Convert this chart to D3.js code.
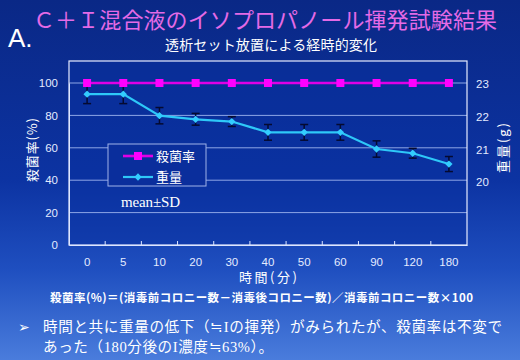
<!DOCTYPE html>
<html><head><meta charset="utf-8">
<script src="https://cdn.jsdelivr.net/npm/d3@7/dist/d3.min.js"></script>
<style>html,body{margin:0;padding:0;background:#0a2a8a;}svg{display:block;}</style>
</head><body>
<script>
const categories = ["0","5","10","20","30","40","50","60","90","120","180"];
const killRate = [100,100,100,100,100,100,100,100,100,100,100];
const weight = [22.69,22.69,22.03,21.92,21.85,21.52,21.52,21.52,21.01,20.88,20.55];
const weightSD = [0.29,0.29,0.25,0.18,0.15,0.24,0.24,0.24,0.25,0.15,0.23];
const leftTicks = [0,20,40,60,80,100];
const rightTicks = [20,21,22,23];

const W=520,H=360;
const svg=d3.select("body").append("svg").attr("width",W).attr("height",H);
const defs=svg.append("defs");
const g=defs.append("linearGradient").attr("id","bg").attr("x1",0).attr("y1",0).attr("x2",0).attr("y2",1);
g.append("stop").attr("offset","0").attr("stop-color","#0a2886");
g.append("stop").attr("offset","0.5").attr("stop-color","#0c33a2");
g.append("stop").attr("offset","0.75").attr("stop-color","#1f4fc0");
g.append("stop").attr("offset","1").attr("stop-color","#4a7cdc");
svg.append("rect").attr("width",W).attr("height",H).attr("fill","url(#bg)");

const jp="'Noto Sans CJK JP','Noto Sans',sans-serif";
const num="'Liberation Sans',Arial,sans-serif";
const serif="'Liberation Serif','DejaVu Serif',serif";

const L=69,R=467,T=61,B=245;
const x=d3.scaleBand().domain(categories).range([L,R]);
const yL=d3.scaleLinear().domain([0,100]).range([B,83]);
const yR=d3.scaleLinear().domain([20,23]).range([182,84]);

// plot bg
svg.append("rect").attr("x",L).attr("y",T).attr("width",R-L).attr("height",B-T).attr("fill","#0730a0").attr("opacity",0.5);

// gridlines
svg.append("g").selectAll("line").data(leftTicks.filter(d=>d>0)).join("line")
  .attr("x1",L).attr("x2",R).attr("y1",d=>yL(d)).attr("y2",d=>yL(d))
  .attr("stroke","#8ea6e6").attr("stroke-width",1);

// frame
svg.append("rect").attr("x",L).attr("y",T).attr("width",R-L).attr("height",B-T)
  .attr("fill","none").attr("stroke","#e6ecff").attr("stroke-width",1.2);

// left axis
const axL=svg.append("g").attr("transform",`translate(${L},0)`)
  .call(d3.axisLeft(yL).tickValues(leftTicks).tickSize(0).tickPadding(11));
axL.select(".domain").attr("stroke","#dde6ff");
axL.selectAll("text").attr("fill","#e4ebff").style("font-family",num).style("font-size","11.5px");

// right axis
const axR=svg.append("g").attr("transform",`translate(${R},0)`)
  .call(d3.axisRight(yR).tickValues(rightTicks).tickFormat(d3.format("d")).tickSize(0).tickPadding(9));
axR.select(".domain").remove();
axR.selectAll("text").attr("fill","#e4ebff").style("font-family",num).style("font-size","11.5px");

// bottom axis
const axB=svg.append("g").attr("transform",`translate(0,${B})`)
  .call(d3.axisBottom(x).tickSize(0).tickPadding(13));
axB.select(".domain").attr("stroke","#dde6ff");
axB.selectAll("text").attr("fill","#e4ebff").style("font-family",num).style("font-size","11.5px");
svg.append("g").selectAll("line").data(categories.slice(1)).join("line")
  .attr("x1",d=>x(d)).attr("x2",d=>x(d)).attr("y1",B-4).attr("y2",B)
  .attr("stroke","#dde6ff").attr("stroke-width",1);

const cx=d=>x(d)+x.bandwidth()/2;

// weight error bars
const eb=svg.append("g").attr("stroke","#050a30").attr("stroke-width",1.5);
categories.forEach((c,i)=>{
  const y1=yR(weight[i]+weightSD[i]), y2=yR(weight[i]-weightSD[i]);
  eb.append("line").attr("x1",cx(c)).attr("x2",cx(c)).attr("y1",y1).attr("y2",y2);
  eb.append("line").attr("x1",cx(c)-4).attr("x2",cx(c)+4).attr("y1",y1).attr("y2",y1);
  eb.append("line").attr("x1",cx(c)-4).attr("x2",cx(c)+4).attr("y1",y2).attr("y2",y2);
});

// weight line
svg.append("path").datum(weight)
  .attr("d",d3.line().x((d,i)=>cx(categories[i])).y(d=>yR(d)))
  .attr("fill","none").attr("stroke","#2ec8f8").attr("stroke-width",2.2);
svg.append("g").selectAll("path").data(weight).join("path")
  .attr("d",d3.symbol(d3.symbolDiamond2,34))
  .attr("transform",(d,i)=>`translate(${cx(categories[i])},${yR(d)})`)
  .attr("fill","#33ccff");

// kill rate line
svg.append("path").datum(killRate)
  .attr("d",d3.line().x((d,i)=>cx(categories[i])).y(d=>yL(d)))
  .attr("fill","none").attr("stroke","#e000e6").attr("stroke-width",2.6);
svg.append("g").selectAll("rect").data(killRate).join("rect")
  .attr("x",(d,i)=>cx(categories[i])-4).attr("y",d=>yL(d)-4).attr("width",8).attr("height",8)
  .attr("fill","#ff00ff");

// legend
svg.append("rect").attr("x",108).attr("y",144).attr("width",98).attr("height",42)
  .attr("fill","#0a2e9c").attr("stroke","#9fb2e8").attr("stroke-width",1);
svg.append("line").attr("x1",123).attr("x2",153).attr("y1",156).attr("y2",156).attr("stroke","#e000e6").attr("stroke-width",2.6);
svg.append("rect").attr("x",134).attr("y",152).attr("width",8).attr("height",8).attr("fill","#ff00ff");
svg.append("line").attr("x1",123).attr("x2",153).attr("y1",177).attr("y2",177).attr("stroke","#2ec8f8").attr("stroke-width",2.2);
svg.append("path").attr("d",d3.symbol(d3.symbolDiamond2,34)).attr("transform","translate(138,177)").attr("fill","#33ccff");
svg.append("text").attr("x",156).attr("y",161).text("殺菌率").attr("fill","#ffffff").style("font-family",jp).style("font-size","13px");
svg.append("text").attr("x",156).attr("y",182).text("重量").attr("fill","#ffffff").style("font-family",jp).style("font-size","13px");

// mean±SD
svg.append("text").attr("x",121).attr("y",207).text("mean±SD").attr("fill","#ffffff")
  .style("font-family",serif).style("font-size","15px").attr("textLength",59);

// axis titles
svg.append("text").attr("transform","translate(37,150) rotate(-90)").attr("text-anchor","middle")
  .text("殺菌率(%)").attr("fill","#ffffff").style("font-family",jp).style("font-size","13px").attr("textLength",64);
svg.append("text").attr("transform","translate(508,148) rotate(-90)").attr("text-anchor","middle")
  .text("重量(g)").attr("fill","#ffffff").style("font-family",jp).style("font-size","13px").attr("textLength",50);
svg.append("text").attr("x",268).attr("y",282).attr("text-anchor","middle")
  .text("時間(分)").attr("fill","#ffffff").style("font-family",jp).style("font-size","13px").attr("textLength",58);

// titles
svg.append("text").attr("x",33).attr("y",28).text("Ｃ＋Ｉ混合液のイソプロパノール揮発試験結果")
  .attr("fill","#e46ae6").style("font-family",jp).style("font-size","22px").attr("textLength",464);
svg.append("text").attr("x",8).attr("y",47).text("A.").attr("fill","#ffffff")
  .style("font-family",num).style("font-size","26px");
svg.append("text").attr("x",271).attr("y",50).attr("text-anchor","middle").text("透析セット放置による経時的変化")
  .attr("fill","#ffffff").style("font-family",jp).style("font-size","14px").attr("textLength",212);

// formula
svg.append("text").attr("x",50).attr("y",302).text("殺菌率(%)＝(消毒前コロニー数－消毒後コロニー数)／消毒前コロニー数×100")
  .attr("fill","#ffffff").style("font-family",jp).style("font-size","11.5px").style("font-weight","bold").attr("textLength",423);

// bullet text
svg.append("text").attr("x",18).attr("y",332).text("➢").attr("fill","#ffffff").style("font-family","'DejaVu Sans',sans-serif").style("font-size","14px");
const t1=svg.append("text").attr("x",43).attr("y",332).attr("fill","#ffffff").style("font-family",jp).style("font-size","14.6px").attr("textLength",459);
t1.append("tspan").text("時間と共に重量の低下（≒");
t1.append("tspan").text("I").style("font-family",serif);
t1.append("tspan").text("の揮発）がみられたが、殺菌率は不変で");
const t2=svg.append("text").attr("x",43).attr("y",352).attr("fill","#ffffff").style("font-family",jp).style("font-size","14.6px").attr("textLength",230);
t2.append("tspan").text("あった（");
t2.append("tspan").text("180").style("font-family",serif);
t2.append("tspan").text("分後の");
t2.append("tspan").text("I").style("font-family",serif);
t2.append("tspan").text("濃度≒");
t2.append("tspan").text("63%").style("font-family",serif);
t2.append("tspan").text("）。");
</script>
</body></html>
